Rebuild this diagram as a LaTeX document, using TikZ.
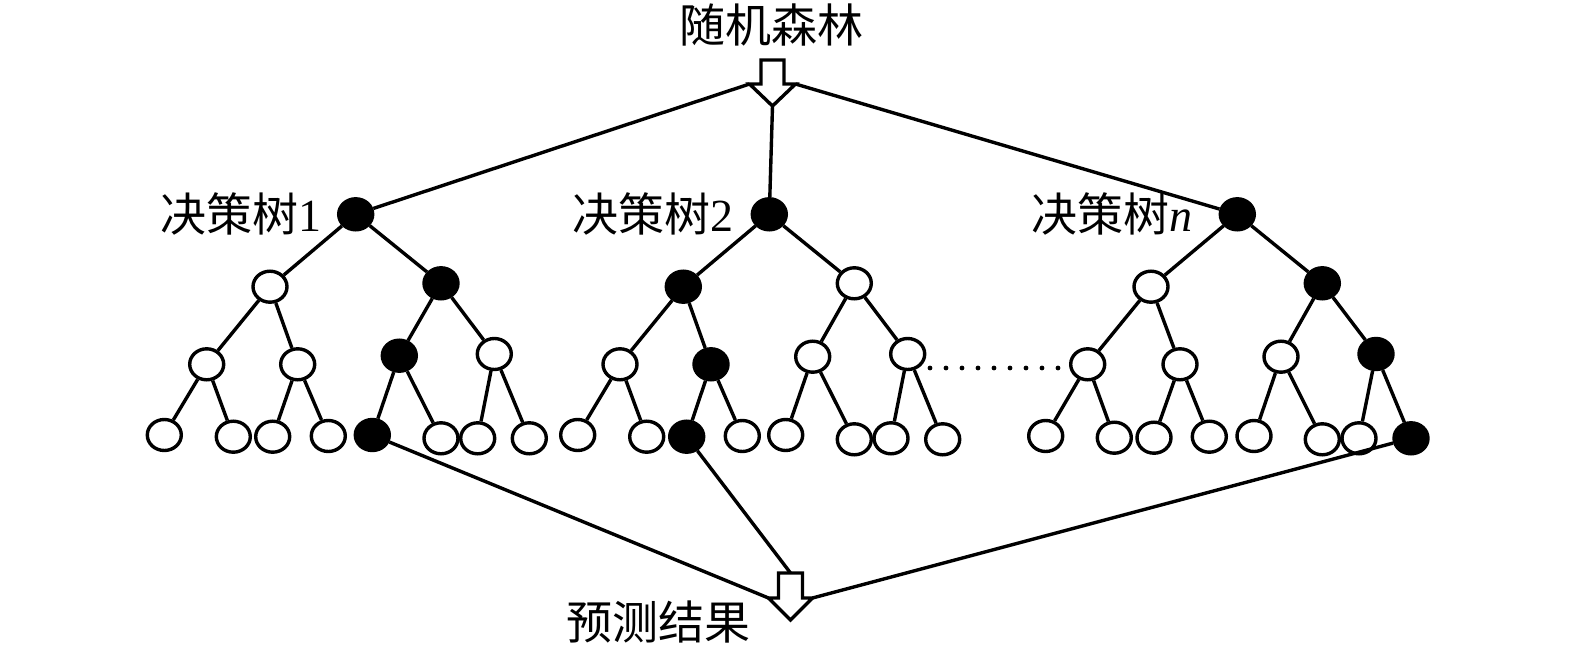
\documentclass[tikz,border=0pt]{standalone}
\usepackage{fontspec}
\setmainfont{Liberation Serif}
\newfontfamily\cjk{Noto Sans CJK SC}
\usetikzlibrary{shapes.geometric}
\begin{document}
\begin{tikzpicture}[x=0.5pt,y=-0.5pt,
  line width=1.7pt,
  tn/.style={ellipse,draw,line width=1.7pt,fill=white,minimum width=17pt,minimum height=15.5pt,inner sep=0pt},
  fn/.style={tn,fill=black},
  lbl/.style={inner sep=0pt,font=\fontsize{23}{27}\selectfont},
  hollow/.style={draw,fill=white,line width=1.7pt,line join=miter}]
\useasboundingbox (0,0) rectangle (1575,647);
% titles
\node[lbl] (title) at (771.5,25) {\cjk 随机森林};
\node[lbl] (result) at (658,622) {\cjk 预测结果};
\node[lbl,anchor=east] (l1) at (323,214) {{\cjk 决策树}1};
\node[lbl,anchor=east] (l2) at (735,214) {{\cjk 决策树}2};
\node[lbl,anchor=east] (ln) at (1194,214) {{\cjk 决策树}\textit{n}};
% tree 1
\node[fn] (t1r) at (355.7,214.3) {};
\node[tn] (t1a) at (270,286.7) {};
\node[fn] (t1b) at (441,283.3) {};
\node[tn] (t1aa) at (206.7,364.3) {};
\node[tn] (t1ab) at (297.7,364.3) {};
\node[fn] (t1ba) at (399.3,355.7) {};
\node[tn] (t1bb) at (494.3,354) {};
\node[tn] (t1aaa) at (164.3,435) {};
\node[tn] (t1aab) at (233.3,436.7) {};
\node[tn] (t1aba) at (272.7,436.7) {};
\node[tn] (t1abb) at (328.3,436) {};
\node[fn] (t1baa) at (372.3,435) {};
\node[tn] (t1bab) at (441,438.3) {};
\node[tn] (t1bba) at (477.7,438.3) {};
\node[tn] (t1bbb) at (529.3,438.3) {};
% tree 2
\node[fn] (t2r) at (769.3,214.3) {};
\node[fn] (t2a) at (683.3,286.7) {};
\node[tn] (t2b) at (854.3,283.3) {};
\node[tn] (t2aa) at (620,364.3) {};
\node[fn] (t2ab) at (711,364.3) {};
\node[tn] (t2ba) at (812.7,356.7) {};
\node[tn] (t2bb) at (907.7,354) {};
\node[tn] (t2aaa) at (577.7,435) {};
\node[tn] (t2aab) at (646.7,436.7) {};
\node[fn] (t2aba) at (686.7,436.7) {};
\node[tn] (t2abb) at (742.3,436) {};
\node[tn] (t2baa) at (785.7,435) {};
\node[tn] (t2bab) at (854.3,439.3) {};
\node[tn] (t2bba) at (891,438.3) {};
\node[tn] (t2bbb) at (942.7,439.3) {};
% tree n
\node[fn] (t3r) at (1237.3,214.3) {};
\node[tn] (t3a) at (1151,286.7) {};
\node[fn] (t3b) at (1322.3,283.3) {};
\node[tn] (t3aa) at (1087.7,364.3) {};
\node[tn] (t3ab) at (1180,364.3) {};
\node[tn] (t3ba) at (1281,356.7) {};
\node[fn] (t3bb) at (1376,354) {};
\node[tn] (t3aaa) at (1045.7,436) {};
\node[tn] (t3aab) at (1114.3,437.7) {};
\node[tn] (t3aba) at (1154,437.7) {};
\node[tn] (t3abb) at (1209.3,436.7) {};
\node[tn] (t3baa) at (1254,436) {};
\node[tn] (t3bab) at (1322.3,439.3) {};
\node[tn] (t3bba) at (1359,438.3) {};
\node[fn] (t3bbb) at (1411,438.3) {};
% tree edges
\foreach \t in {t1,t2,t3}{
  \draw (\t r) -- (\t a);
  \draw (\t r) -- (\t b);
  \foreach \p in {a,b}{
    \draw (\t\p) -- (\t\p a);
    \draw (\t\p) -- (\t\p b);
    \foreach \q in {a,b}{
      \draw (\t\p\q) -- (\t\p\q a);
      \draw (\t\p\q) -- (\t\p\q b);
    }
  }
}
% dotted
\coordinate (d1) at (930,368);
\coordinate (d2) at (1062,368);
\draw[line width=2.4pt,line cap=round,dash pattern=on 0pt off 8pt] (d1) -- (d2);
% top arrow coordinates
\coordinate (ta1) at (761,60);
\coordinate (ta2) at (784,60);
\coordinate (ta3) at (784,84);
\coordinate (taR) at (795.5,84);
\coordinate (taT) at (772.5,106);
\coordinate (taL) at (749.5,84);
\coordinate (ta7) at (761,84);
\draw (taL) -- (t1r);
\draw (taR) -- (t3r);
\draw (taT) -- (t2r);
\draw[hollow] (ta1) -- (ta2) -- (ta3) -- (taR) -- (taT) -- (taL) -- (ta7) -- cycle;
% bottom arrow coordinates
\coordinate (ba1) at (778.5,573);
\coordinate (baS) at (790.5,573);
\coordinate (ba2) at (802.5,573);
\coordinate (ba3) at (802.5,598);
\coordinate (baR) at (812.5,598);
\coordinate (baT) at (790.5,620);
\coordinate (baL) at (768.5,598);
\coordinate (ba7) at (778.5,598);
\draw (t1baa) -- (baL);
\draw (t2aba) -- (baS);
\draw (t3bbb) -- (baR);
\draw[hollow] (ba1) -- (ba2) -- (ba3) -- (baR) -- (baT) -- (baL) -- (ba7) -- cycle;
\end{tikzpicture}
\end{document}
